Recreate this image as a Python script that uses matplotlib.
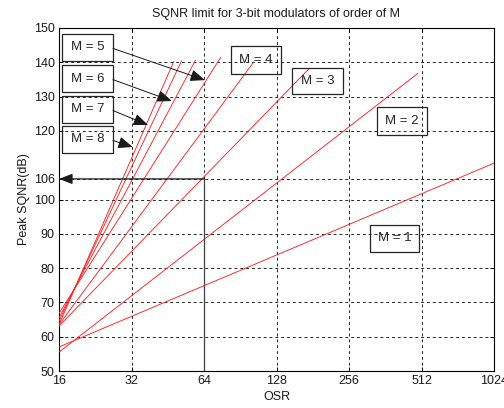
import matplotlib
matplotlib.use("Agg")
import matplotlib.pyplot as plt
from matplotlib.patches import Rectangle

plt.rcParams["font.family"] = ["Liberation Sans", "DejaVu Sans"]
plt.rcParams["font.size"] = 9

# modulator orders and the straight lines (log2 x axis)
orders = [1, 2, 3, 4, 5, 6, 7, 8]
osr_start = [16, 16, 16, 16, 16, 16, 16, 16]
sqnr_start = [57.0, 55.5, 63.1, 63.5, 66.8, 65.5, 64.5, 63.5]
osr_end = [1024, 495, 175, 103, 75, 59, 51.6, 47.9]
sqnr_end = [110.6, 136.8, 138.2, 140.1, 141.4, 140.6, 140.4, 140.2]

x_ticks = [16, 32, 64, 128, 256, 512, 1024]
y_ticks = [50, 60, 70, 80, 90, 100, 106, 120, 130, 140, 150]

ref_osr = 64
ref_sqnr = 106

# label boxes in axes fraction: (x0, y0, x1, y1)
boxes = {
    5: (0.007, 0.904, 0.124, 0.983),
    6: (0.007, 0.813, 0.124, 0.892),
    7: (0.007, 0.723, 0.124, 0.802),
    8: (0.007, 0.636, 0.124, 0.714),
    4: (0.395, 0.866, 0.510, 0.948),
    3: (0.536, 0.808, 0.653, 0.883),
    2: (0.731, 0.688, 0.846, 0.770),
    1: (0.715, 0.347, 0.828, 0.426),
}
# arrow tips (data coords) for the left-hand labels
arrow_tips = {5: (64.6, 134.8), 6: (47.1, 128.7), 7: (37.5, 121.7), 8: (32.4, 115.3)}

fig = plt.figure(figsize=(5.04, 4.08), dpi=100)
ax = fig.add_axes([59 / 504, 37 / 408, 435 / 504, 343 / 408])

for m, x0, y0, x1, y1 in zip(orders, osr_start, sqnr_start, osr_end, sqnr_end):
    ax.plot([x0, x1], [y0, y1], color="#ff2020", lw=0.65, zorder=3)

ax.set_xscale("log", base=2)
ax.set_xlim(16, 1024)
ax.set_ylim(50, 150)
ax.set_xticks(x_ticks)
ax.set_xticklabels([str(t) for t in x_ticks])
ax.minorticks_off()
ax.set_yticks(y_ticks)
ax.tick_params(direction="in", length=3, width=0.7, top=True, right=True, pad=3,
               labelcolor="0.1")
ax.grid(True, color="0.15", linestyle=(0, (3, 3)), lw=0.7)
for s in ax.spines.values():
    s.set_linewidth(0.8)

# 106 dB at OSR 64 marker lines
ax.plot([ref_osr, ref_osr], [50, ref_sqnr], color="0.25", lw=0.9, zorder=4)
ax.annotate("", xy=(16, ref_sqnr), xytext=(ref_osr, ref_sqnr),
            arrowprops=dict(arrowstyle="-|>,head_length=0.9,head_width=0.35",
                            color="0.1", lw=0.9, shrinkA=0, shrinkB=0), zorder=5)

for m, (bx0, by0, bx1, by1) in boxes.items():
    ax.add_patch(Rectangle((bx0, by0), bx1 - bx0, by1 - by0, transform=ax.transAxes,
                           fill=False, ec="0.15", lw=0.9, zorder=6, clip_on=False))
    ax.text((bx0 + bx1) / 2, (by0 + by1) / 2, f"M = {m}", transform=ax.transAxes,
            ha="center", va="center", fontsize=9.5, color="0.15", zorder=7)
    if m in arrow_tips:
        ax.annotate("", xy=arrow_tips[m], xycoords="data",
                    xytext=(bx1, (by0 + by1) / 2 - 0.003), textcoords="axes fraction",
                    arrowprops=dict(arrowstyle="-|>,head_length=1.0,head_width=0.4",
                                    color="0.1", lw=0.7, shrinkA=0, shrinkB=0), zorder=7)

ax.set_xlabel("OSR", labelpad=3, color="0.1")
ax.set_ylabel("Peak SQNR(dB)", labelpad=3, color="0.1")
ax.set_title("SQNR limit for 3-bit modulators of order of M", fontsize=9, pad=8,
             color="0.1")

fig.savefig("out.png", dpi=100, facecolor="white")
